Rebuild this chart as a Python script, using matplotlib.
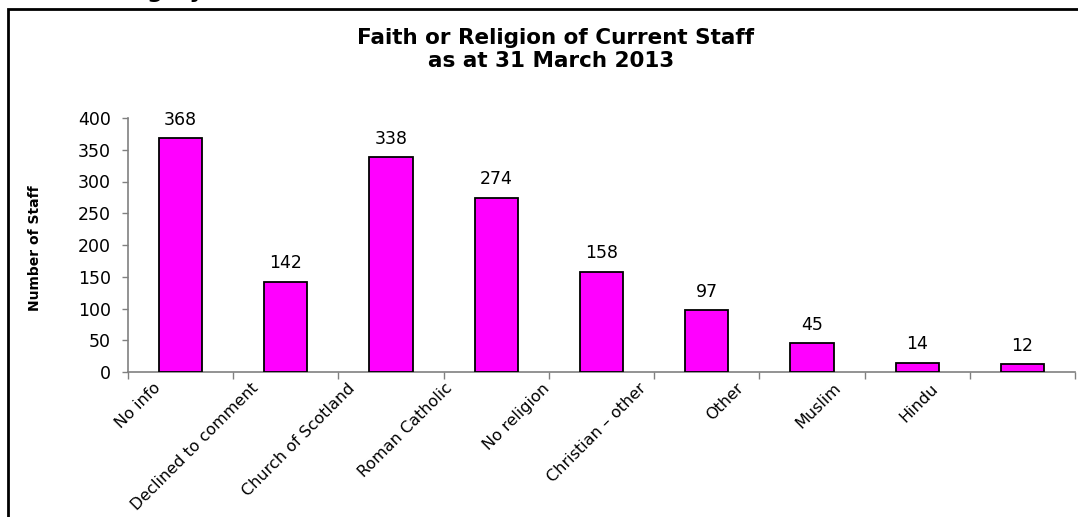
import matplotlib
matplotlib.use('Agg')
import matplotlib.pyplot as plt
import numpy as np
from matplotlib.patches import Rectangle

# staff counts by faith / religion
religions = ['No info', 'Declined to comment', 'Church of Scotland', 'Roman Catholic',
             'No religion', 'Christian \u2013 other', 'Other', 'Muslim', 'Hindu']
staff = [368, 142, 338, 274, 158, 97, 45, 14, 12]
y_ticks = [0, 50, 100, 150, 200, 250, 300, 350, 400]

plt.rcParams['font.family'] = ['DejaVu Sans']

W, H = 1078, 517
fig = plt.figure(figsize=(W / 100, H / 100), dpi=100)
ax = fig.add_axes([128 / W, 1 - 372 / H, 947 / W, 254 / H])

x = np.arange(len(religions))
ax.bar(x, staff, width=0.41, color='#ff00ff', edgecolor='black', linewidth=1.3, zorder=3)
for xi, v in zip(x, staff):
    ax.annotate(str(v), (xi, v), xytext=(0, 7), textcoords='offset points',
                ha='center', va='bottom', fontsize=12.5)

ax.set_xlim(-0.5, len(religions) - 0.5)
ax.set_ylim(0, 400)
ax.set_yticks(y_ticks)
ax.tick_params(axis='y', labelsize=12.5, length=4.5, width=1, color='#808080', pad=8)

# tick marks sit between categories, labels are drawn slanted under each bar
ax.set_xticks(np.arange(-0.5, len(religions), 1), minor=True)
ax.set_xticks(x * 0.923 - 0.21)
ax.set_xticklabels(religions, rotation=45, ha='right', va='center', rotation_mode='anchor')
ax.tick_params(axis='x', which='major', length=0, labelsize=11.5, pad=10)
ax.tick_params(axis='x', which='minor', length=5, width=1, color='#808080')

for side in ['top', 'right']:
    ax.spines[side].set_visible(False)
for side in ['left', 'bottom']:
    ax.spines[side].set_color('#808080')
    ax.spines[side].set_linewidth(1.2)

ax.set_ylabel('Number of Staff', fontweight='bold', fontsize=10)
ax.yaxis.set_label_coords((42 - 128) / 947, 0.488)

fig.text(556 / W, 1 - 44 / H, 'Faith or Religion of Current Staff', ha='center', va='baseline',
         fontsize=15.5, fontweight='bold')
fig.text(551 / W, 1 - 67 / H, 'as at 31 March 2013', ha='center', va='baseline',
         fontsize=15.5, fontweight='bold')

# heading above the chart box, only its lower edge fits on the page
fig.text(205 / W, 1 + 1.5 / H, 'Category', ha='right', va='baseline',
         fontsize=16, fontweight='bold')

# chart border
fig.patches.append(Rectangle((8 / W, -0.1), 1.2, 1.1 - 9 / H, transform=fig.transFigure,
                             fill=False, edgecolor='black', linewidth=2))

fig.savefig('out.png', dpi=100)
